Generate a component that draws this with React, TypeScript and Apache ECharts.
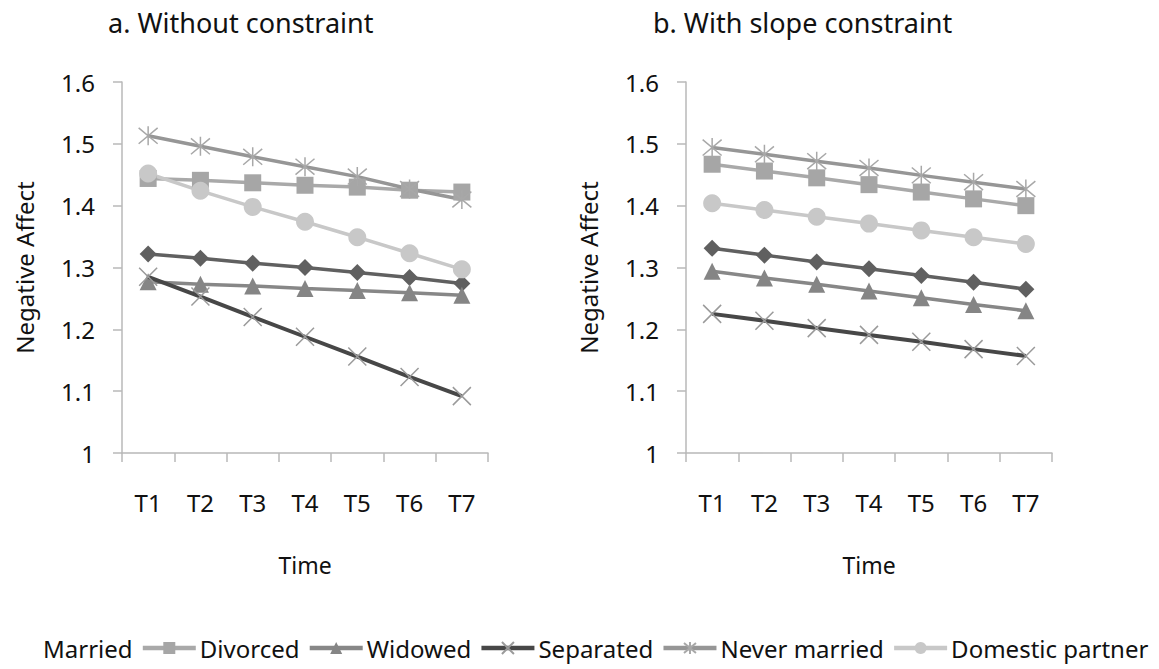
import React, { useEffect, useRef } from "react";
import * as echarts from "echarts";

const categories = ["T1", "T2", "T3", "T4", "T5", "T6", "T7"];
const seriesNames = ["Married", "Divorced", "Widowed", "Separated", "Never married", "Domestic partner"];
const yTicks = [1, 1.1, 1.2, 1.3, 1.4, 1.5, 1.6];

// a. Without constraint
const aMarried = [1.322, 1.315, 1.307, 1.3, 1.292, 1.284, 1.274];
const aDivorced = [1.444, 1.441, 1.437, 1.433, 1.43, 1.425, 1.422];
const aWidowed = [1.277, 1.273, 1.27, 1.266, 1.263, 1.259, 1.255];
const aSeparated = [1.285, 1.253, 1.22, 1.188, 1.156, 1.123, 1.092];
const aNever = [1.513, 1.496, 1.479, 1.463, 1.447, 1.427, 1.41];
const aDomestic = [1.452, 1.424, 1.398, 1.374, 1.349, 1.323, 1.297];

// b. With slope constraint
const bMarried = [1.331, 1.32, 1.309, 1.298, 1.287, 1.276, 1.265];
const bDivorced = [1.467, 1.456, 1.445, 1.434, 1.422, 1.411, 1.4];
const bWidowed = [1.294, 1.283, 1.273, 1.262, 1.251, 1.24, 1.23];
const bSeparated = [1.225, 1.214, 1.202, 1.191, 1.18, 1.168, 1.157];
const bNever = [1.494, 1.483, 1.472, 1.461, 1.449, 1.438, 1.427];
const bDomestic = [1.404, 1.393, 1.382, 1.371, 1.36, 1.349, 1.338];

const FONT = "Noto Sans";
const X_PATH = "path://M0,0 L10,10 M10,0 L0,10";
const STAR_PATH = "path://M0,0 L10,10 M10,0 L0,10 M5,-1 L5,11";

const styles = [
  { line: "#606060", symbol: "diamond", fill: "#606060", border: "#606060", bw: 0, size: 17 },
  { line: "#a9a9a9", symbol: "rect", fill: "#a6a6a6", border: "#a6a6a6", bw: 0, size: 17 },
  { line: "#878787", symbol: "triangle", fill: "#858585", border: "#858585", bw: 0, size: 17 },
  { line: "#474747", symbol: X_PATH, fill: "none", border: "#9a9a9a", bw: 1.5, size: 18 },
  { line: "#969696", symbol: STAR_PATH, fill: "none", border: "#a8a8a8", bw: 1.5, size: 19 },
  { line: "#c8c8c8", symbol: "circle", fill: "#c8c8c8", border: "#c8c8c8", bw: 0, size: 18 },
];

export default function App() {
  const ref = useRef<HTMLDivElement>(null);
  useEffect(() => {
    if (!ref.current) return;
    const chart = echarts.init(ref.current, undefined, { renderer: "svg" });
    const panels = [
      [aMarried, aDivorced, aWidowed, aSeparated, aNever, aDomestic],
      [bMarried, bDivorced, bWidowed, bSeparated, bNever, bDomestic],
    ];
    const series: any[] = [];
    panels.forEach((p, pi) => {
      p.forEach((vals, si) => {
        const s = styles[si];
        series.push({
          type: "line",
          name: seriesNames[si],
          xAxisIndex: pi,
          yAxisIndex: pi,
          data: vals,
          symbol: s.symbol,
          symbolSize: s.size,
          showSymbol: true,
          lineStyle: { color: s.line, width: si === 3 ? 4 : 3.5 },
          itemStyle: { color: s.fill === "none" ? "rgba(0,0,0,0)" : s.fill, borderColor: s.border, borderWidth: s.bw },
          z: si === 3 ? 5 : 3,
        });
      });
    });
    const axisGray = "#b8b8b8";
    const xAxisBase = (gi: number) => ({
      type: "category",
      gridIndex: gi,
      data: categories,
      boundaryGap: true,
      axisLine: { lineStyle: { color: axisGray, width: 1.5 } },
      axisTick: { show: true, length: 9, lineStyle: { color: axisGray, width: 1.5 } },
      axisLabel: { color: "#111", fontFamily: FONT, fontSize: 24, margin: 37 },
      name: "Time",
      nameLocation: "middle",
      nameGap: 100,
      nameTextStyle: { color: "#111", fontFamily: FONT, fontSize: 23 },
    });
    const yAxisBase = (gi: number) => ({
      type: "value",
      gridIndex: gi,
      min: 1,
      max: 1.6,
      interval: 0.1,
      splitLine: { show: false },
      axisLine: { show: true, lineStyle: { color: axisGray, width: 1.5 } },
      axisTick: { show: true, length: 9, lineStyle: { color: axisGray, width: 1.5 } },
      axisLabel: {
        color: "#111",
        fontFamily: FONT,
        fontSize: 24,
        margin: 27,
        formatter: (v: number) => {
          const t = yTicks.find((k) => Math.abs(k - v) < 1e-6);
          return t === undefined ? "" : String(t);
        },
      },
      name: "Negative Affect",
      nameLocation: "middle",
      nameGap: 86,
      nameRotate: 90,
      nameTextStyle: { color: "#111", fontFamily: FONT, fontSize: 24 },
    });
    const legendData = seriesNames.map((n, i) => (i === 0 ? { name: n, icon: "none" } : { name: n }));
    chart.setOption({
      animation: false,
      backgroundColor: "#ffffff",
      title: [
        { text: "a. Without constraint", left: 103, top: 4, textStyle: { fontFamily: FONT, fontSize: 27, fontWeight: "normal", color: "#111" } },
        { text: "b. With slope constraint", left: 648, top: 4, textStyle: { fontFamily: FONT, fontSize: 27, fontWeight: "normal", color: "#111" } },
      ],
      legend: {
        data: legendData,
        left: -19,
        top: 631,
        width: 1300,
        itemWidth: 53,
        itemHeight: 15,
        itemGap: 8,
        lineStyle: { width: 4.5 },
        textStyle: { fontFamily: FONT, fontSize: 24, color: "#111", padding: [0, 0, 0, -1] },
      },
      grid: [
        { left: 122, top: 82, width: 366, height: 371 },
        { left: 686, top: 82, width: 366, height: 371 },
      ],
      xAxis: [xAxisBase(0), xAxisBase(1)],
      yAxis: [yAxisBase(0), yAxisBase(1)],
      series,
    });
    return () => chart.dispose();
  }, []);
  return <div ref={ref} style={{ position: "fixed", left: 0, top: 0, width: 1159, height: 669 }} />;
}
